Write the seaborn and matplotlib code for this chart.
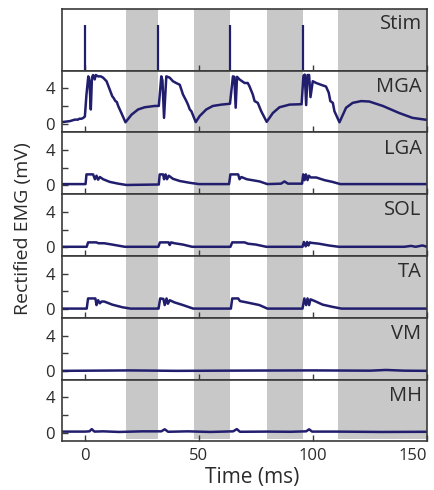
import matplotlib
matplotlib.use("Agg")
import matplotlib.pyplot as plt
import seaborn as sns

sns.set_theme(style="white")
plt.rcParams['font.family'] = ['Open Sans', 'DejaVu Sans']

TRACE = '#221e6e'
BAND = '#c8c8c8'
SPINE = '#3a3a3a'
TEXT = '#2b2b2b'

# shaded periods (ms)
band_start = [18, 48, 80, 111]
band_end = [32, 63.5, 95.5, 150]

# stimulus pulses
stim_times = [0, 32.2, 63.6, 95.6]
stim_height = 0.74

# rectified EMG traces (time in ms, value in mV)
mga_t = [-10, -6.6, -4.4, -3.0, -2.5, -1.5, -0.7, 0.0, 0.7, 1.5, 2.0, 2.6, 3.1, 3.6, 4.3, 4.8,
         5.8, 7.0, 8.0, 9.5, 10.9, 12.0, 12.6, 13.4, 14.0, 14.6, 16.0, 17.8, 20.4, 23.3, 26.2,
         30.6, 32.4, 33.5, 34.0, 34.7, 35.7, 37.2, 38.6, 40.0, 41.6, 43.0, 44.5, 45.2, 46.0,
         46.7, 48.6, 50.3, 53.2, 56.1, 59.8, 63.6, 64.9, 65.5, 66.1, 66.7, 67.8, 70.0, 71.4,
         72.2, 73.6, 74.4, 75.8, 77.3, 79.7, 82.4, 85.3, 89.7, 95.0, 95.8, 96.4, 97.0, 97.6,
         98.3, 98.9, 99.9, 101.4, 103.5, 105.7, 106.9, 107.6, 108.7, 109.4, 111.6, 114.5,
         117.4, 121.1, 124.7, 130.6, 137.8, 143.6, 150]
mga_v = [0.17, 0.28, 0.45, 0.45, 0.55, 0.55, 0.65, 0.8, 3.3, 5.35, 4.8, 1.6, 5.2, 5.5, 5.0, 5.5,
         5.35, 5.35, 5.2, 4.8, 3.85, 3.1, 2.9, 2.55, 2.45, 2.0, 1.2, 0.15, 1.0, 1.6, 1.85,
         2.0, 2.0, 5.35, 4.9, 0.65, 5.35, 5.2, 4.8, 4.6, 4.4, 3.3, 2.55, 2.15, 1.6,
         1.4, 0.17, 0.85, 1.6, 2.0, 2.15, 2.25, 5.35, 5.3, 1.8, 5.3, 5.0, 4.6, 4.6,
         4.2, 3.3, 2.55, 2.35, 1.4, 0.2, 1.2, 1.85, 2.15, 2.2, 5.4, 5.55, 2.1, 5.5,
         5.5, 3.0, 4.8, 4.6, 4.4, 4.2, 3.5, 2.55, 2.35, 1.4, 0.15, 1.8,
         2.35, 2.55, 2.5, 2.0, 1.2, 0.65, 0.42]

lga_t = [-10, 0.3, 0.7, 3.6, 4.4, 5.1, 5.8, 6.6, 8.0, 10.9, 14.6, 18.2, 31.4, 32.4, 32.8, 34.3,
         34.7, 35.4, 36.0, 36.8, 38.6, 41.6, 45.9, 50, 63.2, 63.8, 67.2, 67.8, 68.6, 71.0,
         76.6, 80, 86.0, 87.5, 89.0, 95.2, 95.7, 96.3, 96.9, 97.6, 98.2, 99.0, 101.4, 105.0,
         108.5, 112, 150]
lga_v = [0.15, 0.15, 1.25, 1.25, 0.7, 1.1, 0.65, 0.95, 0.7, 0.4, 0.2, 0.05, 0.1, 0.1, 1.25, 1.25,
         0.7, 1.25, 0.7, 1.1, 0.75, 0.5, 0.3, 0.15, 0.15, 1.25, 1.25, 0.7, 0.95, 0.7,
         0.45, 0.15, 0.2, 0.45, 0.2, 0.2, 1.25, 0.6, 1.25, 0.6, 1.1, 0.9, 0.9, 0.6,
         0.4, 0.15, 0.15]

sol_t = [-10, 0.8, 1.4, 5.0, 6.0, 8.5, 12.0, 17.5, 32.2, 32.9, 36.7, 37.2, 37.8, 39.3, 43.0,
         47.0, 63.8, 64.6, 70.0, 71.5, 75.0, 79.5, 95.4, 96.0, 96.8, 97.4, 98.0, 98.6, 99.2,
         102.6, 106.9, 111.3, 140, 143.0, 145.0, 148.0, 150]
sol_v = [0.05, 0.05, 0.55, 0.55, 0.45, 0.45, 0.3, 0.05, 0.05, 0.55, 0.55, 0.25, 0.55, 0.45, 0.3,
         0.05, 0.05, 0.55, 0.55, 0.4, 0.3, 0.05, 0.05, 0.6, 0.1, 0.6, 0.2, 0.55, 0.5,
         0.4, 0.2, 0.05, 0.05, 0.15, 0.05, 0.2, 0.05]

ta_t = [-10, 0.8, 1.4, 4.6, 5.1, 5.8, 6.6, 7.3, 8.5, 12.0, 16.5, 20.0, 31.8, 32.3, 33.0, 34.4,
        35.0, 35.8, 36.4, 37.2, 39.3, 43.0, 47.5, 64.0, 64.6, 67.2, 68.0, 71.0, 76.5, 80.0,
        95.4, 96.2, 97.0, 97.6, 98.3, 98.9, 100.8, 104.2, 108.5, 112.5, 150]
ta_v = [0.05, 0.05, 1.2, 1.2, 0.45, 1.0, 0.65, 0.85, 0.85, 0.5, 0.2, 0.05, 0.05, 0.05, 1.2, 1.15,
        0.45, 1.2, 0.6, 1.0, 0.75, 0.45, 0.05, 0.05, 1.2, 1.2, 0.9, 0.75, 0.45, 0.05,
        0.05, 1.2, 0.45, 1.2, 0.45, 1.1, 0.9, 0.5, 0.25, 0.05, 0.05]

vm_t = [-10, 20, 40, 70, 100, 125, 132, 140, 150]
vm_v = [0.0, 0.05, 0.0, 0.03, 0.05, 0.02, 0.1, 0.02, 0.0]

mh_t = [-10, 0, 2.0, 3.0, 4.2, 8, 15, 25, 33.5, 35.0, 36.5, 45, 55, 65.0, 66.6, 68.0, 80,
        90, 97.0, 98.3, 99.6, 110, 130, 150]
mh_v = [0.12, 0.12, 0.15, 0.4, 0.12, 0.15, 0.08, 0.15, 0.15, 0.38, 0.1, 0.15, 0.08, 0.15, 0.4,
        0.1, 0.12, 0.1, 0.15, 0.38, 0.12, 0.12, 0.08, 0.1]

muscles = ['MGA', 'LGA', 'SOL', 'TA', 'VM', 'MH']
traces = [(mga_t, mga_v), (lga_t, lga_v), (sol_t, sol_v),
          (ta_t, ta_v), (vm_t, vm_v), (mh_t, mh_v)]

fig, axes = plt.subplots(7, 1, figsize=(4.34, 4.90), dpi=100, sharex=True)
fig.subplots_adjust(left=0.143, right=0.984, top=0.982, bottom=0.099, hspace=0)

for i, ax in enumerate(axes):
    for a, b in zip(band_start, band_end):
        ax.axvspan(a, b, ymin=0.04 if i == 6 else 0, color=BAND, lw=0, zorder=0)
    for s in ax.spines.values():
        s.set_color(SPINE)
        s.set_linewidth(1.2)
    ax.tick_params(axis='both', direction='in', length=4, width=1, colors=SPINE,
                   labelcolor=TEXT, labelsize=12, pad=5, top=False, right=False,
                   bottom=True, left=(i > 0))
    ax.set_xlim(-10, 150)
    ax.set_xticks([0, 50, 100, 150])

# stimulus panel
ax0 = axes[0]
ax0.vlines(stim_times, 0, stim_height, color=TRACE, lw=1.6)
ax0.set_ylim(0, 1)
ax0.set_yticks([])
ax0.text(0.985, 0.76, 'Stim', transform=ax0.transAxes, ha='right', va='center',
         fontsize=14.5, color=TEXT)

for ax, name, (t, v) in zip(axes[1:], muscles, traces):
    sns.lineplot(x=t, y=v, ax=ax, color=TRACE, linewidth=1.8, sort=False, estimator=None)
    ax.set_ylim(-1, 6)
    ax.set_yticks([0, 2, 4])
    ax.set_yticklabels(['0', '', '4'])
    ax.text(0.985, 0.74, name, transform=ax.transAxes, ha='right', va='center',
            fontsize=14.5, color=TEXT)

# last x label sits flush with the right edge
axes[-1].get_xticklabels()[-1].set_horizontalalignment('right')

axes[-1].set_xlabel('Time (ms)', fontsize=15, color=TEXT, labelpad=2)
axes[-1].xaxis.label.set_x(0.52)
fig.text(0.054, 0.533, 'Rectified EMG (mV)', rotation=90, ha='center', va='center',
         fontsize=14, color=TEXT)

fig.savefig('out.png', dpi=100)
